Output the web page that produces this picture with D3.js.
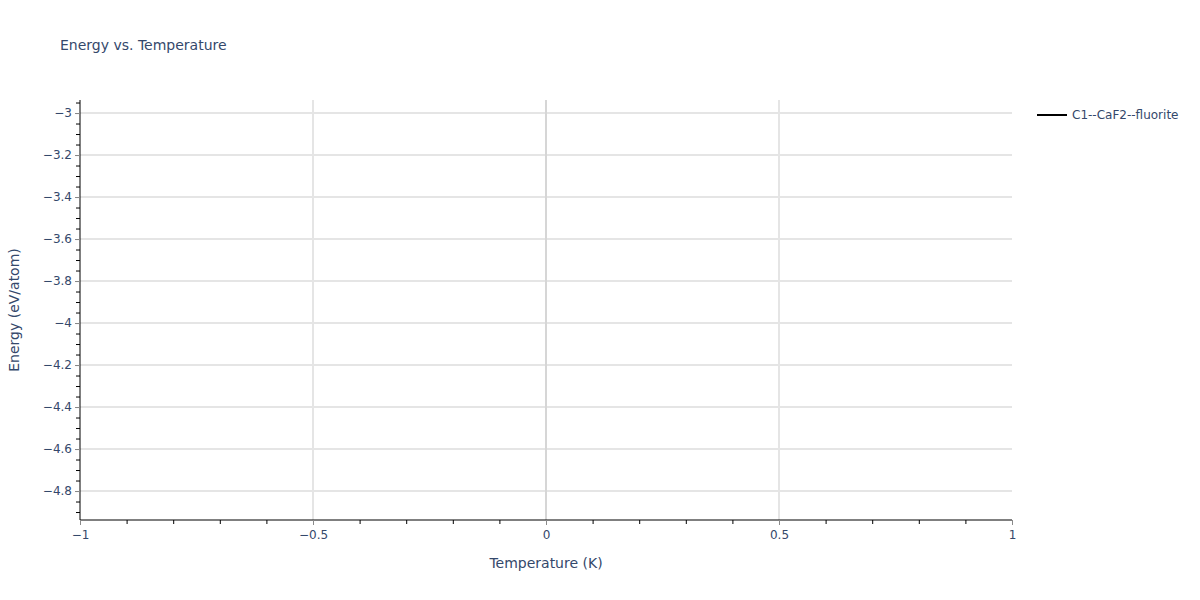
<!DOCTYPE html>
<html><head><meta charset="utf-8">
<script src="https://cdn.jsdelivr.net/npm/d3@7"></script>
<style>body{margin:0;background:#fff}svg{display:block}text{font-family:"DejaVu Sans",Verdana,sans-serif;fill:#34486b}</style>
</head><body><svg id="c" width="1200" height="600"></svg>
<script>
const seriesNames = ["C1--CaF2--fluorite"];
const seriesColors = ["#000000"];
const temperatures = [];
const energies = [];
const xDomain = [-1, 1];
const yDomain = [-4.938, -2.938];
const xTicks = [-1, -0.5, 0, 0.5, 1];
const yTicks = [-3, -3.2, -3.4, -3.6, -3.8, -4, -4.2, -4.4, -4.6, -4.8];

const svg = d3.select("#c");
const m = {l:80, r:188, t:100, b:80};
const W = 1200, H = 600;
const x = d3.scaleLinear().domain(xDomain).range([m.l, W - m.r]);
const y = d3.scaleLinear().domain(yDomain).range([H - m.b, m.t]);
const fmt = v => (v < 0 ? "\u2212" : "") + String(Math.abs(+v.toFixed(2)));
const txt = "#34486b";

const g = svg.append("g");
// grid
g.selectAll(".gy").data(yTicks).join("line")
  .attr("x1", m.l).attr("x2", W - m.r).attr("y1", d => y(d)).attr("y2", d => y(d))
  .attr("stroke", "#e5e5e5").attr("stroke-width", 2);
g.selectAll(".gx").data(xTicks.filter(d => d !== 0 && d !== xDomain[0] && d !== xDomain[1])).join("line")
  .attr("y1", m.t).attr("y2", H - m.b).attr("x1", d => x(d)).attr("x2", d => x(d))
  .attr("stroke", "#e5e5e5").attr("stroke-width", 2);
g.append("line").attr("y1", m.t).attr("y2", H - m.b).attr("x1", x(0)).attr("x2", x(0))
  .attr("stroke", "#d6d6d6").attr("stroke-width", 2);

// data line
const line = d3.line().x((d, i) => x(temperatures[i])).y(d => y(d));
svg.append("path").datum(energies).attr("d", line).attr("fill", "none").attr("stroke", seriesColors[0]).attr("stroke-width", 2);

// minor ticks
const yMinor = d3.range(-4.9, -2.9, 0.05).map(v => +v.toFixed(2)).filter(v => v >= yDomain[0] && v <= yDomain[1]);
const xMinor = d3.range(-1, 1.0001, 0.1).map(v => +v.toFixed(2));
const minorY = d3.axisLeft(y).tickValues(yMinor).tickSize(4).tickFormat("");
const minorX = d3.axisBottom(x).tickValues(xMinor).tickSize(4).tickFormat("");
const ax1 = svg.append("g").attr("transform", `translate(${m.l},0)`).call(minorY);
ax1.selectAll("line").attr("stroke", "#000");
ax1.select(".domain").remove();
const ax2 = svg.append("g").attr("transform", `translate(0,${H - m.b})`).call(minorX);
ax2.selectAll("line").attr("stroke", "#000");
ax2.select(".domain").remove();

// major axes
const yA = svg.append("g").attr("transform", `translate(${m.l},0)`)
  .call(d3.axisLeft(y).tickValues(yTicks).tickSize(5).tickPadding(3).tickFormat(fmt));
yA.selectAll("line").attr("stroke", "#8a8a8a");
yA.select(".domain").attr("d", `M0,${m.t}V${H - m.b}`).attr("stroke", "#000");
yA.selectAll("text").style("font-size", "12px").attr("fill", txt).style("font-family", '"DejaVu Sans",Verdana,sans-serif');

const xA = svg.append("g").attr("transform", `translate(0,${H - m.b})`)
  .call(d3.axisBottom(x).tickValues(xTicks).tickSize(5).tickPadding(5).tickFormat(fmt));
xA.selectAll("line").attr("stroke", "#8a8a8a");
xA.select(".domain").attr("d", `M${m.l},0H${W - m.r}`).attr("stroke", "#000");
xA.selectAll("text").style("font-size", "12px").attr("fill", txt).style("font-family", '"DejaVu Sans",Verdana,sans-serif');

// titles
svg.append("text").attr("x", 60).attr("y", 50).style("font-size", "14px").text("Energy vs. Temperature");
svg.append("text").attr("x", x(0)).attr("y", 568).attr("text-anchor", "middle").style("font-size", "14px").text("Temperature (K)");
svg.append("text").attr("transform", `translate(19,${(m.t + H - m.b) / 2}) rotate(-90)`).attr("text-anchor", "middle").style("font-size", "14px").text("Energy (eV/atom)");

// legend
const lg = svg.append("g").attr("transform", "translate(1037,115)");
lg.selectAll("line").data(seriesNames).join("line").attr("x1", 0).attr("x2", 30).attr("y1", (d, i) => i * 20).attr("y2", (d, i) => i * 20)
  .attr("stroke", (d, i) => seriesColors[i]).attr("stroke-width", 2);
lg.selectAll("text").data(seriesNames).join("text").attr("x", 35).attr("y", (d, i) => i * 20 + 4).style("font-size", "12px").text(d => d);
</script></body></html>
